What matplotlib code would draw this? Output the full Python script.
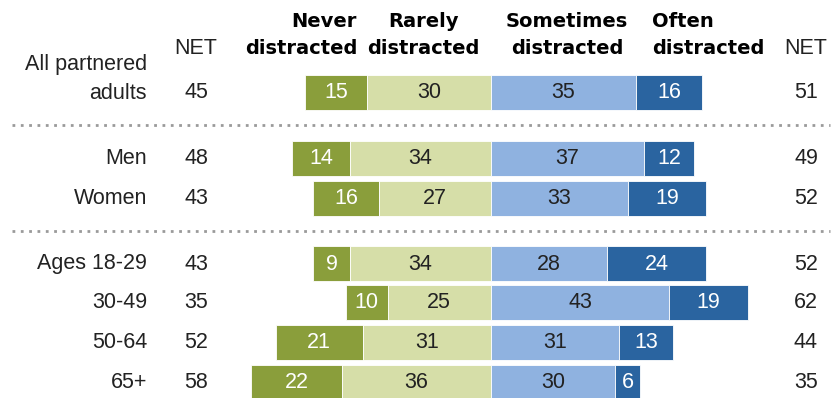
import matplotlib.pyplot as plt

# Data
groups = ["All partnered\nadults", "Men", "Women", "Ages 18-29", "30-49", "50-64", "65+"]
never = [15, 14, 16, 9, 10, 21, 22]
rarely = [30, 34, 27, 34, 25, 31, 36]
sometimes = [35, 37, 33, 28, 43, 31, 30]
often = [16, 12, 19, 24, 19, 13, 6]
net_left = [45, 48, 43, 43, 35, 52, 58]
net_right = [51, 49, 52, 52, 62, 44, 35]

headers = ["Never\ndistracted", "Rarely\ndistracted", "Sometimes\ndistracted", "Often\ndistracted"]

# Colours
c_never = "#8a9e3b"
c_rarely = "#d6dea8"
c_some = "#8fb2e0"
c_often = "#2a64a0"

# Layout (pixel-like coordinates, 1 unit = ~4.14 px)
ppu = 4.14
cx = 491
row_y = [92, 158, 198, 263, 302, 342, 382]
bar_h = 35

fig = plt.figure(figsize=(8.36, 3.98), dpi=100)
ax = fig.add_axes([0, 0, 1, 1])
ax.set_xlim(-cx / ppu, (836 - cx) / ppu)
ax.set_ylim(398, 0)
ax.axis("off")

def u(px):
    # pixel x -> data x
    return (px - cx) / ppu

font = "Liberation Sans"
txt = "#222222"
fs = 15.5

for i, y in enumerate(row_y):
    n, r, s, o = never[i], rarely[i], sometimes[i], often[i]
    segs = [(-(n + r), n, c_never, "white"),
            (-r, r, c_rarely, "#222222"),
            (0, s, c_some, "#222222"),
            (s, o, c_often, "white")]
    for left, w, col, tc in segs:
        ax.barh(y, w, left=left, height=bar_h, color=col,
                edgecolor="white", linewidth=0.6)
        ax.text(left + w / 2, y + 1, str(w), ha="center", va="center",
                fontsize=fs, color=tc, family=font)
    # multi-line label: keep last line on the bar row
    nlines = groups[i].count("\n")
    ax.text(u(147), y + 1 - nlines * 14, groups[i], ha="right", va="center",
            fontsize=fs, color=txt, family=font, linespacing=1.55)
    ax.text(u(196), y + 1, str(net_left[i]), ha="center", va="center",
            fontsize=fs, color=txt, family=font)
    ax.text(u(806), y + 1, str(net_right[i]), ha="center", va="center",
            fontsize=fs, color=txt, family=font)

# header
ax.text(u(196), 48, "NET", ha="center", va="center", fontsize=fs,
        color=txt, family=font)
ax.text(u(806), 48, "NET", ha="center", va="center", fontsize=fs,
        color=txt, family=font)
hdr_x = [(u(357), "right"), (u(423), "center"), (u(567), "center"), (u(652), "left")]
for (hx, ha), h in zip(hdr_x, headers):
    ax.text(hx, 35, h, ha=ha, va="center", fontsize=14, fontweight="bold",
            color="black", family="DejaVu Sans", linespacing=1.55)

# dotted separators
for ys in [125, 231]:
    ax.plot([u(12), u(830)], [ys, ys], linestyle=(0, (1, 2)), color="#9a9a9a",
            linewidth=2)

fig.savefig("out.png", dpi=100)
